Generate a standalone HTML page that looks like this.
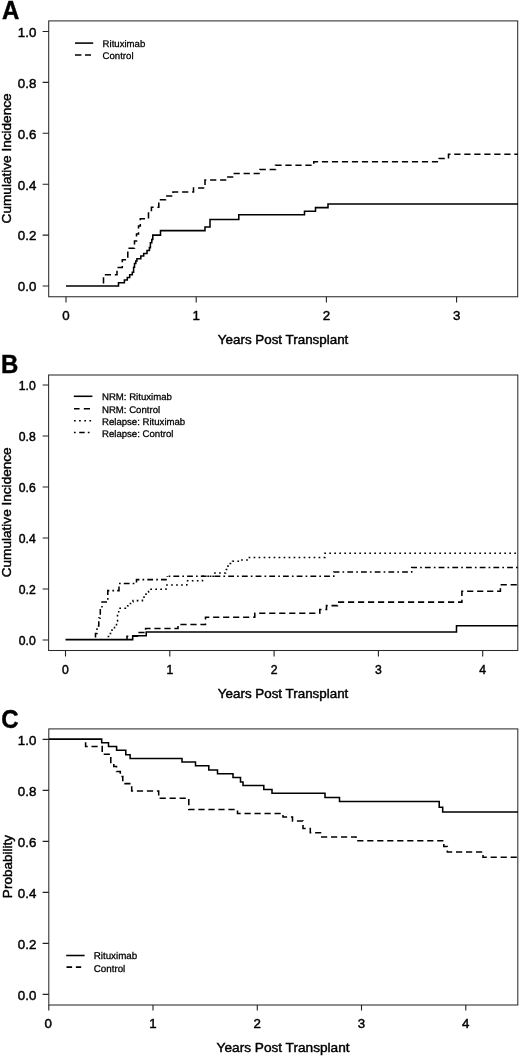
<!DOCTYPE html>
<html><head><meta charset="utf-8">
<style>
html,body{margin:0;padding:0;background:#fff;}
svg{display:block;font-family:"Liberation Sans",sans-serif;filter:blur(0.2px);}
.ax{stroke:#2b2b2b;stroke-width:1.05;fill:none;}
.tk{stroke:#222;stroke-width:1.1;fill:none;}
.c{stroke:#000;stroke-width:1.55;fill:none;stroke-linejoin:miter;stroke-linecap:butt;}
.da{stroke-dasharray:6.2 3.8;}
.dt{stroke-dasharray:1.7 3.3;}
.dd{stroke-dasharray:1.7 3.1 5.8 3.1;}
.t{font-size:13.3px;fill:#000;stroke:#000;stroke-width:0.45;}
.l{font-size:9.6px;text-rendering:geometricPrecision;fill:#000;stroke:#000;stroke-width:0.28;}
.p{font-size:24px;font-weight:bold;fill:#000;stroke:#000;stroke-width:0.4;}
</style></head><body>
<svg width="520" height="1056" viewBox="0 0 520 1056">
<rect width="520" height="1056" fill="#fff"/>

<!-- ================= PANEL A ================= -->
<g id="pa">
<text class="p" transform="translate(1.9,19.45) scale(1,1.06)">A</text>
<rect class="ax" x="48.7" y="20.9" width="469" height="275.85"/>
<path class="tk" d="M42.6,31.5H48.8 M42.6,82.4H48.8 M42.6,133.3H48.8 M42.6,184.2H48.8 M42.6,235.1H48.8 M42.6,286H48.8"/>
<path class="tk" d="M66,296.8V302.5 M196.2,296.8V302.5 M326.4,296.8V302.5 M456.6,296.8V302.5"/>
<g class="t" text-anchor="end">
<text x="36.3" y="36.8">1.0</text><text x="36.3" y="87.7">0.8</text><text x="36.3" y="138.6">0.6</text>
<text x="36.3" y="189.5">0.4</text><text x="36.3" y="240.4">0.2</text><text x="36.3" y="291.3">0.0</text>
</g>
<g class="t" text-anchor="middle">
<text x="66" y="319.8">0</text><text x="196.2" y="319.8">1</text><text x="326.4" y="319.8">2</text><text x="456.6" y="319.8">3</text>
<text x="283.1" y="343.8" style="font-size:13.4px">Years Post Transplant</text>
<text transform="translate(11.2,158.4) rotate(-90)" style="font-size:13.6px">Cumulative Incidence</text>
</g>
<!-- legend -->
<path class="c" d="M75,43.1H93.2"/>
<path class="c" d="M75,55H81.4 M85,55H91"/>
<text class="l" transform="translate(102.6,46.7) scale(1,1)">Rituximab</text>
<text class="l" transform="translate(102.6,58.7) scale(1,1)">Control</text>
<!-- curves -->
<clipPath id="ca"><rect x="48.8" y="21.3" width="469.2" height="275.5"/></clipPath>
<g clip-path="url(#ca)">
<path class="c da" id="a_d" style="stroke-dashoffset:7.5" d="M103.5,285.9V274.7H117V267.4H122.3V259.8H127.8V248.3H134.5V241H136.5V234H138.5V226H140.3V218.7H148.5V211.5H151.4V207.3H158.8V199.7H165.5V196H173V192H193.5V188H205V180H226.5V177H233.5V173.5H260V169.5H275.5V165.3H313.8V161.8H439.2V158.5H448.5V154.2H519"/>
<path class="c" id="a_s" d="M66,285.9H118.5V282.7H124.4V280H127.3V277.4H129.7V274.8H132.3V272.3H133.6V267.3H134.5V263.5H135.8V261H136.9V258.7H140.8V256H143.7V253.4H147V250.5H149.4V247.6H150.4V242.8H151.8V239.4H152.8V235.1H160.5V230.6H205V227H210V219.5H238.8V214.8H304.5V211.3H315.5V207.6H328V204H519"/>
</g>
</g>

<!-- ================= PANEL B ================= -->
<g id="pb">
<text class="p" transform="translate(0.9,372.95) scale(1,1.06)">B</text>
<rect class="ax" x="48.6" y="375" width="469.2" height="275.5"/>
<path class="tk" d="M42.6,385H48.8 M42.6,436H48.8 M42.6,487H48.8 M42.6,538H48.8 M42.6,589H48.8 M42.6,640H48.8"/>
<path class="tk" d="M65.5,650.5V656.4 M169.8,650.5V656.4 M274.1,650.5V656.4 M378.4,650.5V656.4 M482.7,650.5V656.4"/>
<g class="t" text-anchor="end" style="font-size:12.2px">
<text x="35.8" y="389.6">1.0</text><text x="35.8" y="440.6">0.8</text><text x="35.8" y="491.6">0.6</text>
<text x="35.8" y="542.6">0.4</text><text x="35.8" y="593.6">0.2</text><text x="35.8" y="644.6">0.0</text>
</g>
<g class="t" text-anchor="middle">
<g style="font-size:12.2px"><text x="65.5" y="673.9">0</text><text x="169.8" y="673.9">1</text><text x="274.1" y="673.9">2</text><text x="378.4" y="673.9">3</text><text x="482.7" y="673.9">4</text></g>
<text x="283.1" y="697.6" style="font-size:13.4px">Years Post Transplant</text>
<text transform="translate(11.1,512.3) rotate(-90)" style="font-size:13.6px">Cumulative Incidence</text>
</g>
<!-- legend -->
<path class="c" d="M73.8,396.3H92.4"/>
<path class="c" d="M74,408.7H79.6 M83.8,408.7H90"/>
<path class="c" d="M74,420.8H75.7 M79.1,420.8H80.8 M84.3,420.8H86 M89.4,420.8H91.1"/>
<path class="c" d="M74,432.4H75.7 M79.2,432.4H84.7 M87.8,432.4H89.5"/>
<text class="l" transform="translate(102,400.3) scale(1,1)">NRM: Rituximab</text>
<text class="l" transform="translate(102,412.5) scale(1,1)">NRM: Control</text>
<text class="l" transform="translate(102,424.6) scale(1,1)">Relapse: Rituximab</text>
<text class="l" transform="translate(102,436.6) scale(1,1)">Relapse: Control</text>
<clipPath id="cb"><rect x="48.8" y="375" width="469.2" height="275"/></clipPath>
<g clip-path="url(#cb)">
<path class="c dt" id="b_t" style="stroke-dashoffset:1.6" d="M107.3,639.6V636.5H109.5V633.5H112V630H114.5V626.5H116.5V621H117.5V614H118.7V608.2H125.4V605.8H128V603.5H130.5V601.8H133V600.6H142.4V598H144V595H146V592H148.5V590H151V589.2H166V585H186.8V580.7H202.5V576.25H213.5V573H225.5V569.5H228V566H230.3V563.5H232.6V561.3H240.5V560H248V557.5H325V553.2H519"/>
<path class="c dd" id="b_dd" style="stroke-dashoffset:2.6" d="M95.5,639.6V633.5H97V626H98.8V618H100.3V608.5H102V602H107.8V590.6H119V583.5H136.5V579.6H167.3V576.2"/>
<path class="c dd" id="b_dd2" style="stroke-dashoffset:12.4" d="M167.3,576.2H333.8V572H411.7V567.4H519"/>
<path class="c da" id="b_d" style="stroke-dashoffset:1.5" d="M127,639.6V636.2H137.5V632.5H145.6V628.5H178V624.5H205.5V617.2H254.8V613.3H319.8V609.4H326.5V605.6H337.5V602.1H461.9V591.2H500.4V584.7H519"/>
<path class="c" id="b_s" d="M65.5,639.6H132.7V635.8H146.2V632H456.5V625.8H519"/>
</g>
</g>

<!-- ================= PANEL C ================= -->
<g id="pc">
<text class="p" transform="translate(1.3,727.5) scale(1,1.08)">C</text>
<rect class="ax" x="48.8" y="728.9" width="469" height="276.1"/>
<path class="tk" d="M42.6,739.4H48.8 M42.6,790.4H48.8 M42.6,841.4H48.8 M42.6,892.4H48.8 M42.6,943.4H48.8 M42.6,994.4H48.8"/>
<path class="tk" d="M48.8,1005V1010.5 M153,1005V1010.5 M257.3,1005V1010.5 M361.5,1005V1010.5 M465.8,1005V1010.5"/>
<g class="t" text-anchor="end">
<text x="36.3" y="744.7">1.0</text><text x="36.3" y="795.7">0.8</text><text x="36.3" y="846.7">0.6</text>
<text x="36.3" y="897.7">0.4</text><text x="36.3" y="948.7">0.2</text><text x="36.3" y="999.7">0.0</text>
</g>
<g class="t" text-anchor="middle">
<text x="48.3" y="1028">0</text><text x="153" y="1028">1</text><text x="257.3" y="1028">2</text><text x="361.5" y="1028">3</text><text x="465.8" y="1028">4</text>
<text x="283.1" y="1051.5" style="font-size:13.65px">Years Post Transplant</text>
<text transform="translate(11.9,866.5) rotate(-90)" style="font-size:13.55px">Probability</text>
</g>
<!-- legend -->
<path class="c" d="M66.2,955.5H84.6"/>
<path class="c" d="M66.5,967.1H72.1 M75.9,967.1H81.2"/>
<text class="l" transform="translate(93.7,959.4) scale(1,1)" style="font-size:9.8px">Rituximab</text>
<text class="l" transform="translate(93.7,971.8) scale(1,1)" style="font-size:9.8px">Control</text>
<clipPath id="cc"><rect x="48.8" y="728.8" width="469.2" height="276.2"/></clipPath>
<g clip-path="url(#cc)">
<path class="c da" id="c_d" style="stroke-dashoffset:6.8" d="M85.6,739.1V746.4H102.2V754.2H110.8V762.5H113.8V766.5H116.5V771.5H120.3V776.5H122.8V783.6H131.7V791H158.7V798.3H188.8V809.5H237.5V813.4H283V817H292.5V821H303V828.4H310.3V832.8H320.5V836.9H356V840.7H443.8V846.5H447.3V851.9H483V857.3H519"/>
<path class="c" id="c_s" d="M48.8,739.1H101.7V742.7H108.5V746.5H116.6V750.2H125.8V754.7H130.1V758.4H182V762H195.5V765.8H208.8V770H217.5V773.8H233V777.5H240.5V782H243V785.5H263.8V789.5H272V793.3H325V797.5H339.5V801.4H439.2V807.3H442.7V812H519"/>
</g>
</g>
</svg>
</body></html>
